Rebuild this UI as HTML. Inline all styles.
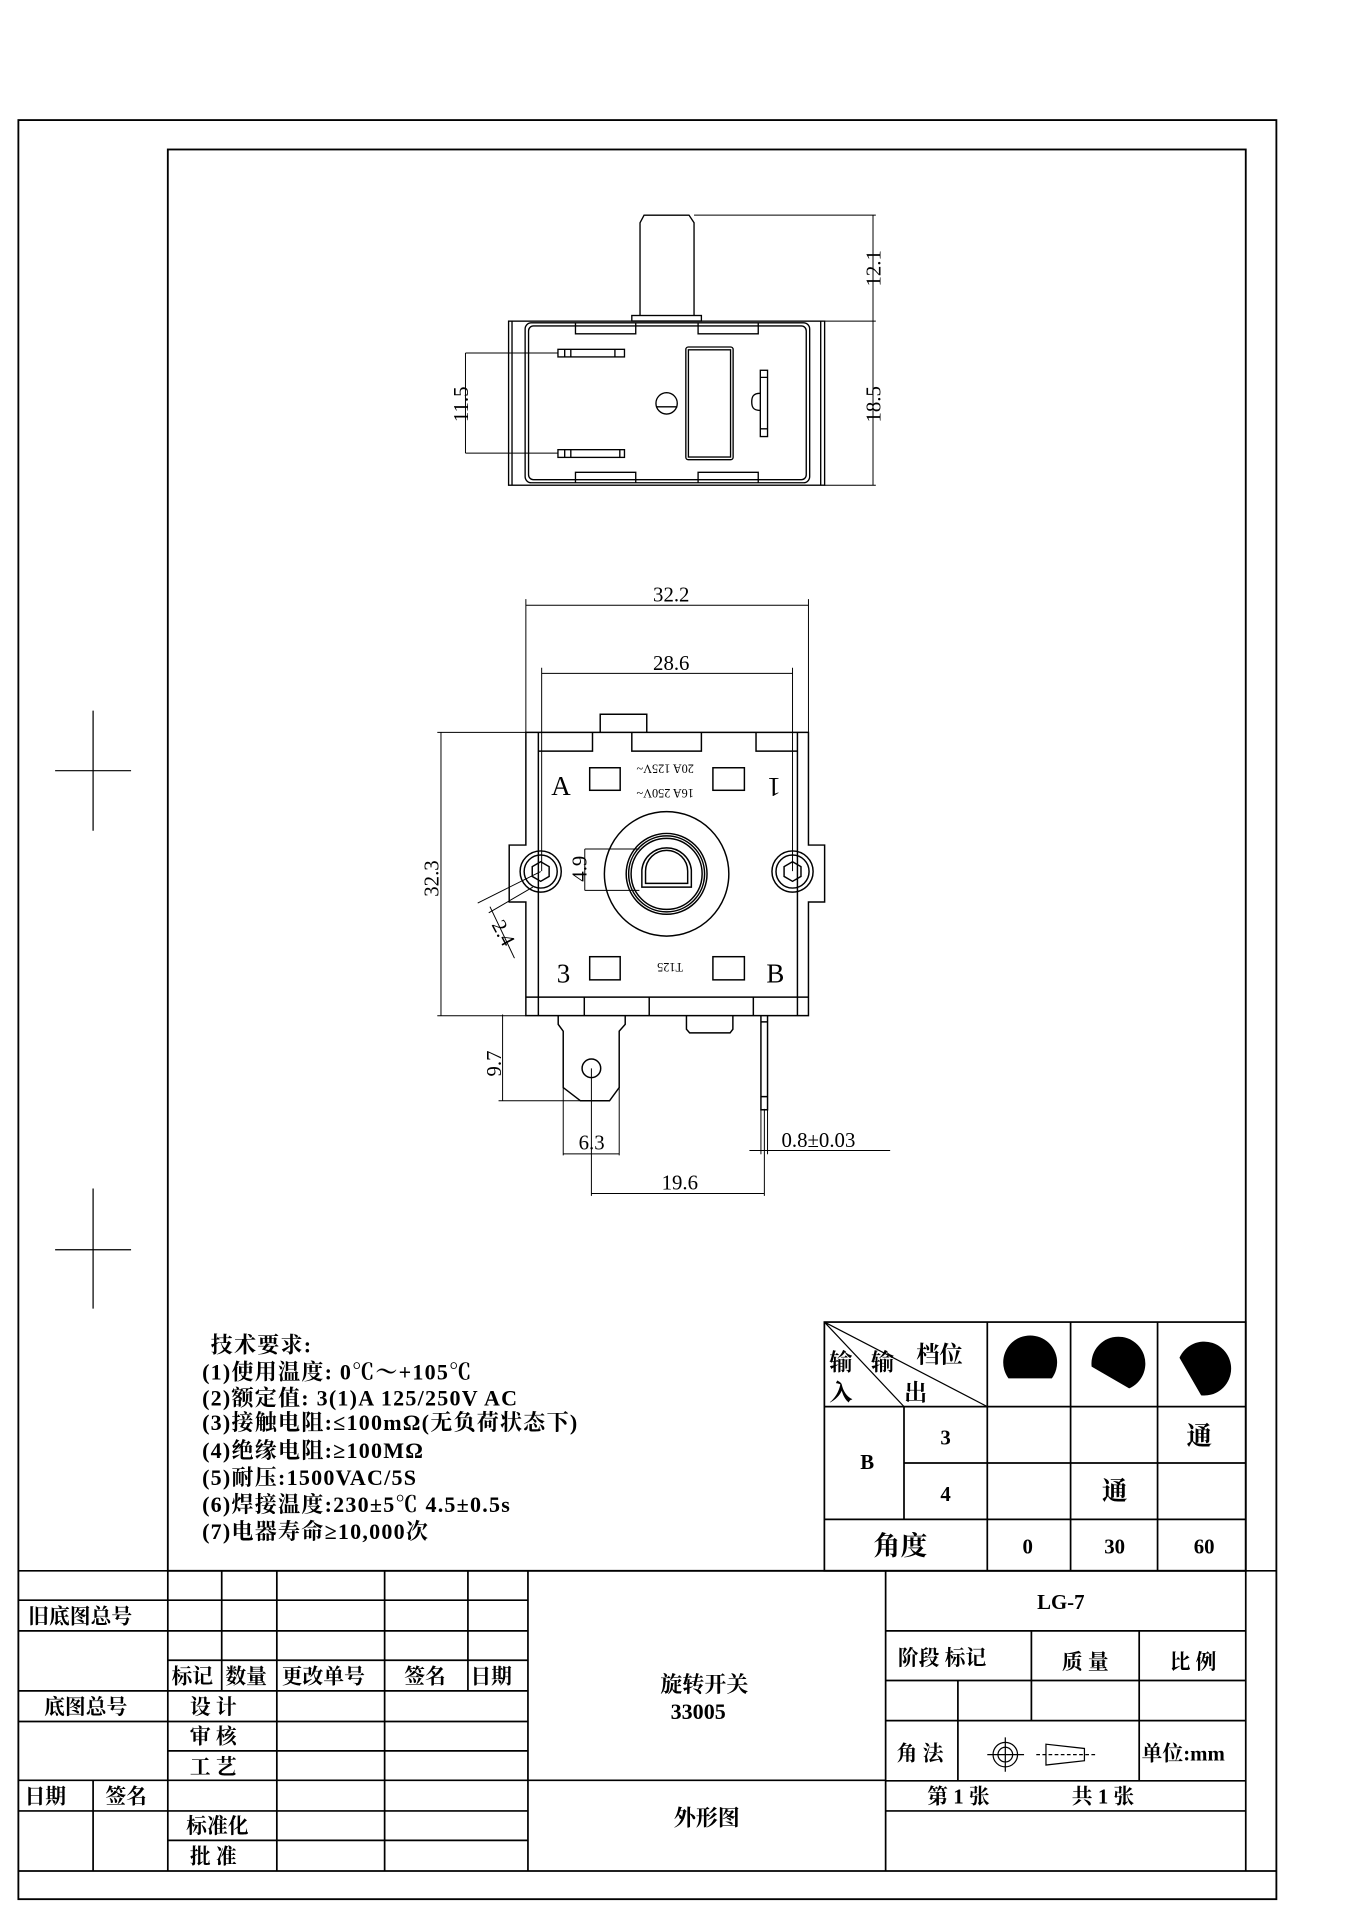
<!DOCTYPE html>
<html><head><meta charset="utf-8"><style>
html,body{margin:0;padding:0;background:#fff;}
svg{display:block;}
text{font-family:"Liberation Serif","Noto Serif CJK SC",serif;fill:#000;}
.c{font-family:"Liberation Sans","Noto Sans CJK SC",sans-serif;font-weight:bold;}
.d{font-family:"Liberation Serif","Noto Serif CJK SC",serif;font-size:17px;}
</style></head><body>
<svg width="1356" height="1920" viewBox="0 0 1107 1567" preserveAspectRatio="none" xmlns="http://www.w3.org/2000/svg">
<g fill="none" stroke="#000">
<rect x="15" y="98" width="1027" height="1452" stroke-width="1.5"/>
<rect x="137" y="122" width="880" height="1160" stroke-width="1.5"/>
<path d="M76 580V678M45 629H107M76 970V1068M45 1020H107" stroke-width="1"/>

<g transform="translate(2,2)">
<g stroke-width="1.1">
<path d="M520.5 255.5V179.8L523.8 173.6H560.5L564.6 179.8V255.5"/>
<rect x="513.8" y="255.5" width="56.8" height="4.5"/>
<rect x="413.2" y="260.1" width="258" height="133.9"/>
<path d="M416 260.1V394M668 260.1V394"/>
<rect x="426.7" y="261.5" width="232.3" height="130.5" rx="5"/>
<rect x="429.5" y="264" width="226.7" height="125.5" rx="4"/>
<path d="M467.8 261.5V270.4H517V261.5M567.9 261.5V270.4H617V261.5M467.8 392V383.5H517V392M567.9 392V383.5H617V392"/>
<rect x="453.5" y="283.1" width="54.3" height="6.2"/>
<path d="M459 283.1V289.3M464 283.1V289.3M500 283.1V289.3"/>
<rect x="453.5" y="365" width="54.3" height="6.3"/>
<path d="M459 365V371.3M464 365V371.3M504 365V371.3"/>
<rect x="557.9" y="281.2" width="38.6" height="92" rx="2"/>
<rect x="560" y="283.5" width="34.4" height="87.5"/>
<circle cx="542.2" cy="327.2" r="8.7"/>
<path d="M533.5 330H551"/>
<rect x="618.7" y="300.2" width="5.9" height="54.1"/>
<path d="M618.7 306H624.6M618.7 348H624.6M618.7 319c-6 0-7 3-7 7s1 7 7 7"/>
</g>
<g stroke-width="0.8">
<path d="M564.6 173.6H713M671.2 260.1H713M671.2 394H713M710.7 173.6V394"/>
<path d="M378 286.1H453.5M378 367.8H453.5M378 286.1V367.8"/>
</g>

<g stroke-width="0.8">
<path d="M427.3 492H658M427.3 487V596M658 487V596"/>
<path d="M440.2 547.6H645M440.2 543V709M645 543V709"/>
<path d="M355 595.7H427M358 595.7V827M355 827H427"/>
<path d="M475.4 690.9H520M475.4 724.7H520M475.4 690.9V724.7"/>
<path d="M439.4 709.3L388 735M433 722L397 743M398 738L418 780"/>
<path d="M408.3 826V896.4M405 896.4H472M457.8 885V941M503.5 885V941M457.8 939.7H503.5M480.8 870V974M480.8 972.1H622M622 903V974M609.8 937H724.7M619.2 903V940M624.6 903V940"/>
</g>
<g stroke-width="1.2">
<path d="M427.3 595.7H658V687.7H671.2V734.2H658V826.9H427.3V734.2H413.7V687.7H427.3Z"/>
<path d="M437.5 595.7V826.9M649 595.7V826.9M427.3 811.8H658"/>
<path d="M488 595.7V580.9H526V595.7"/>
<path d="M437.5 611H481.7V595.7M513.8 595.7V611H570.6V595.7M615.2 595.7V611H649"/>
<path d="M475 811.8V826.9M528 811.8V826.9M613 811.8V826.9"/>
<circle cx="439.4" cy="709.3" r="16.8"/><circle cx="439.4" cy="709.3" r="13.5"/>
<circle cx="645" cy="709.3" r="16.8"/><circle cx="645" cy="709.3" r="13.5"/>
<path d="M439.4 701.3L446.3 705.3V713.3L439.4 717.3L432.5 713.3V705.3Z"/>
<path d="M645 701.3L651.9 705.3V713.3L645 717.3L638.1 713.3V705.3Z"/>
<circle cx="542.2" cy="711.2" r="50.8"/>
<circle cx="542.2" cy="711.2" r="33"/><circle cx="542.2" cy="711.2" r="31"/><circle cx="542.2" cy="711.2" r="29"/>
<path d="M522 722V708A20.3 20 0 0 1 562.4 708V722Z"/>
<path d="M525 719V709A17.2 17 0 0 1 559.4 709V719Z"/>
<rect x="479.4" y="624.6" width="24.9" height="18.4"/>
<rect x="580" y="624.6" width="25.7" height="18.4"/>
<rect x="479.4" y="778.8" width="24.9" height="18.9"/>
<rect x="580" y="778.8" width="25.7" height="18.9"/>
<path d="M453.7 826.9V834L457.8 839.6V885.6L471.9 896.4H495.6L503.5 885.6V839.6L508.4 834V826.9"/>
<circle cx="480.8" cy="869.9" r="7.6"/>
<path d="M558.4 826.9V838L561 841H594L596.3 838V826.9"/>
<path d="M619.2 826.9V903.7H624.6V826.9M619.2 832H624.6M619.2 893H624.6"/>
</g>
</g>

<g stroke-width="1.4">
<rect x="673" y="1079" width="344" height="203"/>
<path d="M673 1148H1017M738 1194H1017M673 1240H1017M738 1148V1240M806 1079V1282M874 1079V1282M945 1079V1282"/>
</g>
<path d="M673 1079L738 1148M673 1079L806 1148" stroke-width="1"/>

<g stroke-width="1.4">
<path d="M15 1282H1042M15 1527H1042"/>
<path d="M15 1306H431M15 1331H431M137 1355H431M15 1380H431M137 1405H431M15 1405H137M137 1429H431M15 1453H431M15 1478H431M137 1502H431"/>
<path d="M137 1282V1527M181 1282V1380M226 1282V1527M314 1282V1527M382 1282V1380M76 1453V1527M431 1282V1527M723 1282V1527"/>
<path d="M431 1453H723"/>
<path d="M723 1331H1017M723 1371.5H1017M723 1404.3H1017M723 1453.4H1017M723 1478H1017M1017 1282V1527M842 1331V1404.3M930 1331V1453.4M782 1371.5V1453.4"/>
</g>
<g stroke-width="1">
<circle cx="820.7" cy="1432" r="10"/><circle cx="820.7" cy="1432" r="6"/>
<path d="M806 1432H836M820.7 1418V1446M853.9 1423.5L885.3 1427V1437L853.9 1440.5Z"/>
<path d="M846 1432H896" stroke-dasharray="3 2"/>
</g>
</g>

<g fill="#000">
<path transform="translate(841,1112)" d="M-17.7 13A22 22 0 1 1 17.7 13Z"/>
<path transform="translate(913,1113) rotate(30)" d="M-17.7 13A22 22 0 1 1 17.7 13Z"/>
<path transform="translate(983,1117) rotate(60)" d="M-17.7 13A22 22 0 1 1 17.7 13Z"/>
</g>

<g transform="translate(2,2)">
<g class="d">
<text transform="translate(717,217) rotate(-90)" text-anchor="middle">12.1</text>
<text transform="translate(717,328) rotate(-90)" text-anchor="middle">18.5</text>
<text transform="translate(380,328) rotate(-90)" text-anchor="middle">11.5</text>
<text x="546" y="489" text-anchor="middle">32.2</text>
<text x="546" y="545" text-anchor="middle">28.6</text>
<text transform="translate(356,715) rotate(-90)" text-anchor="middle">32.3</text>
<text transform="translate(477,707) rotate(-90)" text-anchor="middle">4.9</text>
<text transform="translate(404,762) rotate(62)" text-anchor="middle">2.4</text>
<text transform="translate(407,866) rotate(-90)" text-anchor="middle">9.7</text>
<text x="481" y="936" text-anchor="middle">6.3</text>
<text x="553" y="969" text-anchor="middle">19.6</text>
<text x="636" y="934">0.8±0.03</text>
</g>
<g font-family="Liberation Sans, sans-serif" fill="#000">
<text x="456" y="647" font-size="22" text-anchor="middle">A</text>
<text x="630" y="647" font-size="22" text-anchor="middle" transform="rotate(180,630,640)">1</text>
<text x="458" y="800" font-size="22" text-anchor="middle">3</text>
<text x="631" y="800" font-size="22" text-anchor="middle">B</text>
<text x="541" y="630" font-size="10" text-anchor="middle" transform="rotate(180,541,626)">20A 125V~</text>
<text x="541" y="650" font-size="10" text-anchor="middle" transform="rotate(180,541,646)">16A 250V~</text>
<text x="545" y="792" font-size="10" text-anchor="middle" transform="rotate(180,545,788)">T125</text>
</g>
</g>

<g class="c" font-size="18" letter-spacing="1">
<text x="172" y="1104">技术要求:</text>
<text x="165" y="1126">(1)使用温度:  0℃～+105℃</text>
<text x="165" y="1147">(2)额定值:  3(1)A 125/250V AC</text>
<text x="165" y="1167">(3)接触电阻:≤100mΩ(无负荷状态下)</text>
<text x="165" y="1190">(4)绝缘电阻:≥100MΩ</text>
<text x="165" y="1212">(5)耐压:1500VAC/5S</text>
<text x="165" y="1234">(6)焊接温度:230±5℃ 4.5±0.5s</text>
<text x="165" y="1256">(7)电器寿命≥10,000次</text>
</g>

<g class="c" font-size="19">
<text x="677" y="1118">输</text><text x="711" y="1118">输</text>
<text x="748" y="1112">档位</text>
<text x="677" y="1143">入</text><text x="738" y="1143">出</text>
<text x="708" y="1199" font-size="17" text-anchor="middle">B</text>
<text x="772" y="1179" font-size="17" text-anchor="middle">3</text>
<text x="772" y="1225" font-size="17" text-anchor="middle">4</text>
<text x="979" y="1179" font-size="21" text-anchor="middle">通</text>
<text x="910" y="1224" font-size="21" text-anchor="middle">通</text>
<text x="735" y="1269" font-size="22" text-anchor="middle">角度</text>
<text x="839" y="1268" font-size="17" text-anchor="middle">0</text>
<text x="910" y="1268" font-size="17" text-anchor="middle">30</text>
<text x="983" y="1268" font-size="17" text-anchor="middle">60</text>
</g>

<g class="c" font-size="17">
<text x="23" y="1325">旧底图总号</text>
<text x="36" y="1399">底图总号</text>
<text x="20" y="1472">日期</text><text x="86" y="1472">签名</text>
<text x="140" y="1374">标记</text><text x="184" y="1374">数量</text>
<text x="230" y="1374">更改单号</text><text x="330" y="1374">签名</text><text x="384" y="1374">日期</text>
<text x="155" y="1399">设 计</text>
<text x="155" y="1423">审 核</text>
<text x="155" y="1448">工 艺</text>
<text x="152" y="1496">标准化</text>
<text x="155" y="1521">批 准</text>
<text x="575" y="1381" font-size="18" text-anchor="middle">旋转开关</text>
<text x="570" y="1403" font-size="18" text-anchor="middle">33005</text>
<text x="577" y="1490" font-size="18" text-anchor="middle">外形图</text>
<text x="866" y="1313" text-anchor="middle">LG-7</text>
<text x="733" y="1359">阶段 标记</text>
<text x="886" y="1362" text-anchor="middle">质 量</text>
<text x="974" y="1362" text-anchor="middle">比 例</text>
<text x="732" y="1437">角 法</text>
<text x="932" y="1437">单位:mm</text>
<text x="757" y="1472">第 1 张</text>
<text x="875" y="1472">共 1 张</text>
</g>
</svg>
</body></html>
